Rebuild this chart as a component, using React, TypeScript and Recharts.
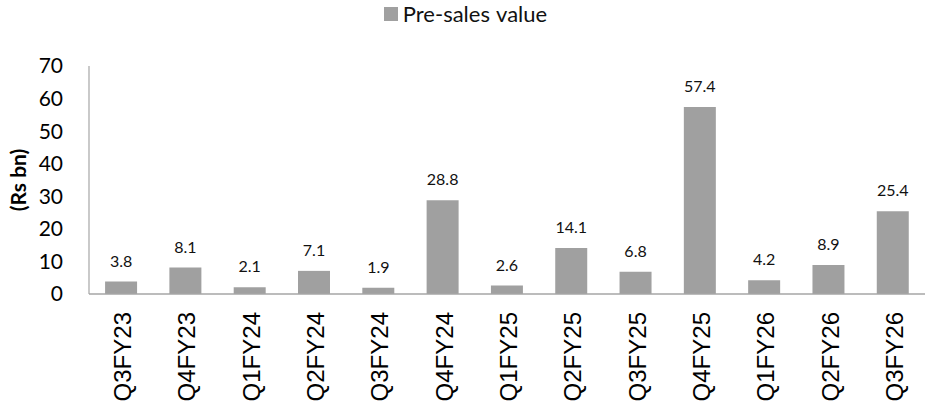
import { Bar, BarChart, LabelList, Legend, XAxis, YAxis } from "recharts";

const quarters = [
  "Q3FY23",
  "Q4FY23",
  "Q1FY24",
  "Q2FY24",
  "Q3FY24",
  "Q4FY24",
  "Q1FY25",
  "Q2FY25",
  "Q3FY25",
  "Q4FY25",
  "Q1FY26",
  "Q2FY26",
  "Q3FY26",
];
const preSales = [3.8, 8.1, 2.1, 7.1, 1.9, 28.8, 2.6, 14.1, 6.8, 57.4, 4.2, 8.9, 25.4];
const yTicks = [0, 10, 20, 30, 40, 50, 60, 70];

const data = quarters.map((q, i) => ({ quarter: q, value: preSales[i] }));

const BAR_GREY = "#a0a0a0";
const AXIS_GREY = "#a6a6a6";

function QuarterTick(props: any) {
  const { x, y, payload } = props;
  return (
    <g transform={`translate(${x},${y + 18})`}>
      <text
        x={0}
        y={0}
        dy={10}
        textAnchor="end"
        transform="rotate(-90)"
        fontFamily="'Liberation Sans', Arial, sans-serif"
        fontSize={24}
        fill="#000"
      >
        {payload.value}
      </text>
    </g>
  );
}

function UnitLabel(props: any) {
  const vb = props.viewBox || { x: 0, y: 66, width: 89, height: 228 };
  const cx = vb.x + 17;
  const cy = vb.y + vb.height / 2;
  return (
    <text
      x={cx}
      y={cy}
      textAnchor="middle"
      dominantBaseline="central"
      transform={`rotate(-90, ${cx}, ${cy})`}
      fontFamily="Lato, sans-serif"
      fontWeight="bold"
      fontSize={21}
      fill="#000"
    >
      (Rs bn)
    </text>
  );
}

function LegendBox() {
  return (
    <div
      style={{
        height: 64,
        display: "flex",
        justifyContent: "center",
        alignItems: "flex-start",
      }}
    >
      <div style={{ display: "flex", alignItems: "center", marginLeft: 6 }}>
        <span
          style={{
            display: "inline-block",
            width: 14,
            height: 14,
            background: BAR_GREY,
            marginRight: 5,
          }}
        />
        <span
          style={{
            fontFamily: "Lato, sans-serif",
            fontSize: 22,
            color: "#111",
            lineHeight: "24px",
            wordSpacing: 1,
          }}
        >
          Pre-sales value
        </span>
      </div>
    </div>
  );
}

export default function App() {
  return (
    <div style={{ position: "absolute", left: 0, top: 0, width: 925, height: 403 }}>
      <BarChart
        width={925}
        height={403}
        data={data}
        margin={{ top: 2, right: 0, bottom: 0, left: 0 }}
        barCategoryGap="25%"
      >
        <Legend verticalAlign="top" align="center" content={() => <LegendBox />} />
        <XAxis
          dataKey="quarter"
          interval={0}
          height={109}
          tickLine={false}
          tickSize={0}
          tickMargin={0}
          axisLine={{ stroke: AXIS_GREY, strokeWidth: 1.5 }}
          tick={<QuarterTick />}
        />
        <YAxis
          width={89}
          domain={[0, 70]}
          ticks={yTicks}
          interval={0}
          tickLine={false}
          tickSize={0}
          tickMargin={26}
          axisLine={{ stroke: AXIS_GREY, strokeWidth: 1.2 }}
          tick={{ fontFamily: "Lato, sans-serif", fontSize: 21, fill: "#000" }}
          label={<UnitLabel />}
        />
        <Bar dataKey="value" fill={BAR_GREY} isAnimationActive={false}>
          <LabelList
            dataKey="value"
            position="top"
            offset={15}
            fontFamily="Lato, sans-serif"
            fontSize={16}
            fill="#111"
          />
        </Bar>
      </BarChart>
    </div>
  );
}
